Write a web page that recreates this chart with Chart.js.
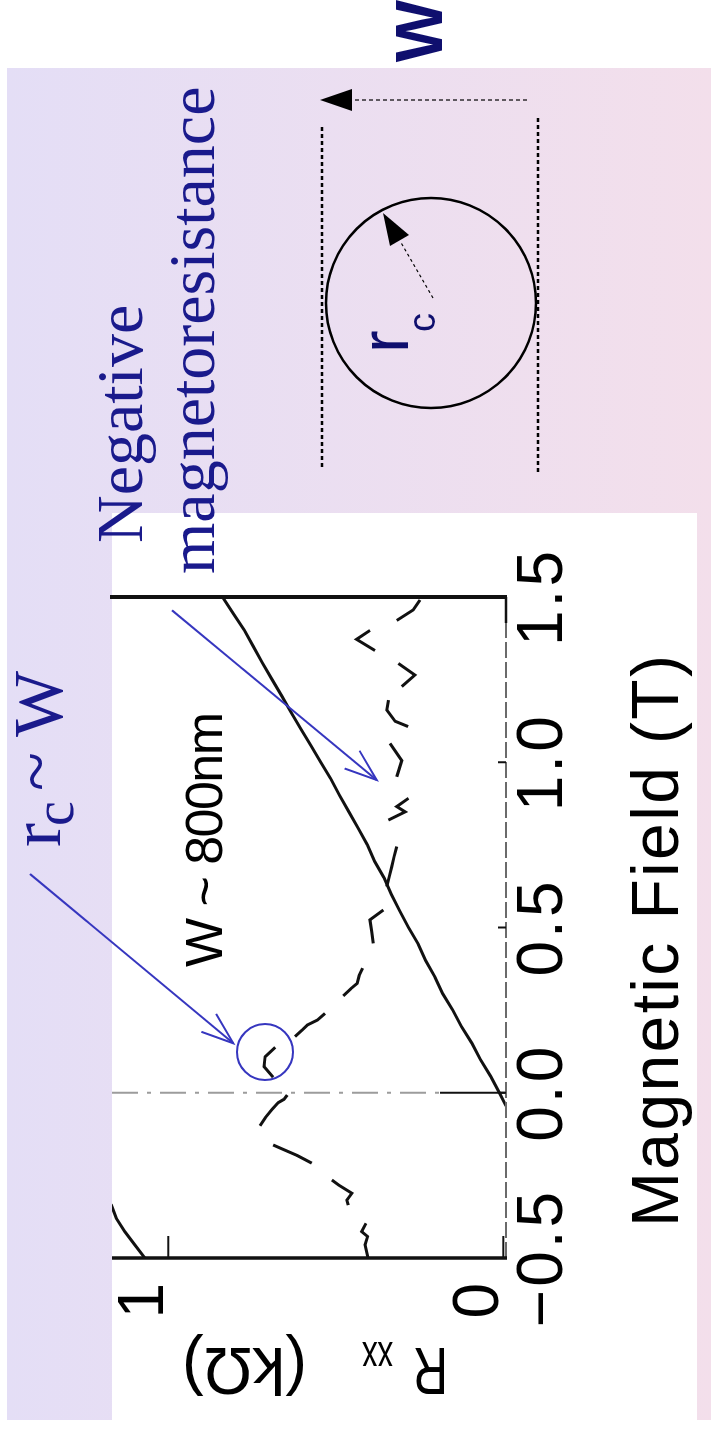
<!DOCTYPE html>
<html>
<head>
<meta charset="utf-8">
<script src="https://cdn.jsdelivr.net/npm/chart.js@4.4.1/dist/chart.umd.min.js"></script>
<style>
  html, body { margin: 0; padding: 0; background: #fff; overflow: hidden; }
  /* the slide is laid out landscape and turned a quarter turn */
  #slide { position: absolute; left: 0; top: 0; width: 1431px; height: 711px;
           transform-origin: 0 0; transform: translateY(1431px) rotate(-90deg); }
  #bg { position: absolute; left: 11px; top: 7px; width: 1352px; height: 704px;
        background: linear-gradient(to bottom, #e4def6, #f3dfeb); }
  #panel { position: absolute; left: 11px; top: 112px; width: 907px; height: 585px; background: #fff; }
  #chart, #notes { position: absolute; left: 0; top: 0; }
</style>
</head>
<body>
<div id="slide">
  <div id="bg"></div>
  <div id="panel"></div>
  <canvas id="chart" width="1431" height="711"></canvas>
  <svg id="notes" width="1431" height="711" font-family="'Liberation Sans', Arial, sans-serif">
    <!-- channel of width W with a cyclotron orbit -->
    <g stroke="#000" fill="none">
      <line x1="964" y1="322" x2="1306" y2="322" stroke-width="2.5" stroke-dasharray="4 3"/>
      <line x1="959" y1="538" x2="1313" y2="538" stroke-width="2.5" stroke-dasharray="4 3"/>
      <circle cx="1128" cy="431" r="105" stroke-width="2.5"/>
      <line x1="1331" y1="527" x2="1331" y2="350" stroke-width="1.2" stroke-dasharray="4 3"/>
      <line x1="1133" y1="433" x2="1190" y2="400" stroke-width="1.2" stroke-dasharray="3 3"/>
    </g>
    <polygon points="1331,320 1320,352 1342,352" fill="#000"/>
    <polygon points="1218,383 1196,409 1185,390" fill="#000"/>
    <text x="1400" y="442" text-anchor="middle" font-size="66" font-weight="bold" fill="#0f0f6e">W</text>
    <text x="1078" y="408" font-size="68" fill="#0f0f6e">r</text>
    <text x="1099" y="435" font-size="38" fill="#0f0f6e">c</text>

    <g font-family="'Liberation Serif', 'Times New Roman', serif" fill="#1a1a8c">
      <text x="888" y="142" font-size="66">Negative</text>
      <text x="857" y="214" font-size="66">magnetoresistance</text>
      <text x="584" y="60" font-size="72">r</text>
      <text x="605" y="73" font-size="56">c</text>
      <text x="640" y="60" font-size="72">~</text>
      <text x="694" y="62" font-size="70">W</text>
    </g>

    <!-- pointers onto the plot -->
    <g stroke="#3636bf" stroke-width="2" fill="none">
      <line x1="557" y1="30" x2="387.7" y2="233.3"/>
      <polyline points="417.1,216.2 387.7,233.3 399.2,201.3"/>
      <line x1="820.7" y1="172" x2="651" y2="376.7"/>
      <polyline points="680.3,359.5 651,376.7 662.5,344.7"/>
      <circle cx="379" cy="265" r="28"/>
    </g>

    <text x="464" y="222" font-size="52" textLength="255" lengthAdjust="spacing">W ~ 800nm</text>
    <text x="204" y="678" font-size="66" textLength="572" lengthAdjust="spacing">Magnetic Field (T)</text>
    <g transform="translate(83 448) rotate(-90)" font-size="66">
      <text x="0" y="0" textLength="35" lengthAdjust="spacingAndGlyphs">R</text>
      <text x="55" y="6" font-size="44" textLength="31" lengthAdjust="spacingAndGlyphs">xx</text>
      <text x="141" y="0" textLength="125" lengthAdjust="spacingAndGlyphs">(kΩ)</text>
    </g>
  </svg>
</div>
<script>
// field in tesla, resistance in kΩ; a null value lifts the pen
const hallField = [-0.5, -0.46, -0.42, -0.38, -0.34, -0.30, -0.30,
  -0.04, 0.00, 0.05, 0.10, 0.15, 0.20, 0.25, 0.30, 0.35, 0.40, 0.45, 0.50, 0.55, 0.60, 0.65, 0.70,
  0.75, 0.80, 0.85, 0.90, 0.95, 1.00, 1.05, 1.10, 1.15, 1.20, 1.25, 1.30, 1.35, 1.40, 1.45, 1.50];
const hallValue = [1.07, 1.10, 1.13, 1.155, 1.17, 1.20, null,
  -0.008, 0.012, 0.038, 0.068, 0.094, 0.125, 0.151, 0.181, 0.204, 0.232, 0.254, 0.283, 0.309, 0.334, 0.356, 0.384,
  0.406, 0.433, 0.461, 0.489, 0.515, 0.545, 0.574, 0.604, 0.633, 0.661, 0.69, 0.719, 0.746, 0.773, 0.806, 0.838];

const rxxField = [
  -0.5, -0.46, -0.435, -0.42, -0.395, -0.395,
  -0.34, -0.325, -0.304, -0.279, -0.264, -0.264,
  -0.213, -0.19, -0.17, -0.158, -0.158,
  -0.10, -0.075, -0.05, -0.03, -0.02, -0.007, -0.007,
  0.047, 0.079, 0.109, 0.1375, 0.1375,
  0.17, 0.19, 0.205, 0.22, 0.24, 0.24,
  0.293, 0.315, 0.331, 0.355, 0.377, 0.377,
  0.452, 0.487, 0.523, 0.553, 0.553,
  0.624, 0.655, 0.684, 0.715, 0.745, 0.745,
  0.825, 0.85, 0.866, 0.891, 0.891,
  0.956, 1.005, 1.057, 1.057,
  1.108, 1.124, 1.158, 1.188, 1.188,
  1.229, 1.264, 1.299, 1.299,
  1.338, 1.372, 1.399, 1.399,
  1.429, 1.461, 1.491];
const rxxValue = [
  0.404, 0.413, 0.405, 0.423, 0.41, null,
  0.463, 0.467, 0.452, 0.492, 0.512, null,
  0.572, 0.615, 0.66, 0.687, null,
  0.726, 0.71, 0.69, 0.672, 0.655, 0.645, null,
  0.687, 0.714, 0.711, 0.681, null,
  0.622, 0.60, 0.585, 0.555, 0.532, null,
  0.478, 0.455, 0.436, 0.43, 0.42, null,
  0.388, 0.393, 0.398, 0.358, null,
  0.348, 0.34, 0.333, 0.326, 0.318, null,
  0.343, 0.293, 0.318, 0.283, null,
  0.318, 0.303, 0.338, null,
  0.284, 0.323, 0.348, 0.343, null,
  0.303, 0.264, 0.313, null,
  0.383, 0.438, 0.398, null,
  0.318, 0.269, 0.249];

const fieldTicks = [-0.5, 0, 0.5, 1, 1.5];
const resTicks = [0, 1];

const toPoints = (xs, ys) => xs.map((v, i) => ({ x: v, y: ys[i] }));

function line(ctx, x1, y1, x2, y2) {
  ctx.beginPath();
  ctx.moveTo(x1, y1);
  ctx.lineTo(x2, y2);
  ctx.stroke();
}

// box, zero-field marker and inward ticks of the scanned figure
const framePlugin = {
  id: 'frame',
  beforeDraw(chart) {
    chart.ctx.letterSpacing = '3px';
  },
  afterDatasetsDraw(chart) {
    const { ctx, chartArea: area, scales: { x, y } } = chart;
    const { left, right, top, bottom } = area;
    ctx.save();
    ctx.letterSpacing = '0px';

    const x0 = x.getPixelForValue(0);
    ctx.strokeStyle = '#9c9c9c';
    ctx.lineWidth = 2;
    ctx.setLineDash([26, 9, 4, 9]);
    line(ctx, x0, top, x0, bottom - 66);
    ctx.setLineDash([]);
    ctx.strokeStyle = '#111';
    line(ctx, x0, bottom - 66, x0, bottom);

    ctx.strokeStyle = '#6a6a6a';
    ctx.setLineDash([16, 4]);
    line(ctx, left, bottom, right, bottom);
    ctx.setLineDash([]);
    ctx.strokeStyle = '#111';
    ctx.lineWidth = 2.5;
    line(ctx, right - 26, bottom, right, bottom);

    ctx.lineWidth = 3.5;
    line(ctx, left, top, left, bottom + 1);
    ctx.lineWidth = 4;
    line(ctx, right, top - 2, right, bottom + 1);

    ctx.lineWidth = 2;
    resTicks.forEach(v => {
      const py = y.getPixelForValue(v);
      line(ctx, left, py, left + 22, py);
    });
    fieldTicks.slice(1, -1).forEach(v => {
      const px = x.getPixelForValue(v);
      line(ctx, px, bottom, px, bottom - 8);
    });
    ctx.restore();
  }
};

const tickFont = { family: "'Liberation Sans', Arial, sans-serif", size: 64 };

new Chart(document.getElementById('chart'), {
  type: 'line',
  data: {
    datasets: [
      {
        label: 'Rxy',
        data: toPoints(hallField, hallValue),
        borderColor: '#111',
        borderWidth: 3,
        pointRadius: 0,
        spanGaps: false
      },
      {
        label: 'Rxx',
        data: toPoints(rxxField, rxxValue),
        borderColor: '#111',
        borderWidth: 3,
        pointRadius: 0,
        spanGaps: false
      }
    ]
  },
  options: {
    responsive: false,
    animation: false,
    devicePixelRatio: 1,
    layout: { padding: { left: 53, right: 597, top: 112, bottom: 55 } },
    plugins: { legend: { display: false }, tooltip: { enabled: false } },
    scales: {
      x: {
        type: 'linear',
        min: -0.5,
        max: 1.5,
        afterBuildTicks: scale => { scale.ticks = fieldTicks.map(v => ({ value: v })); },
        afterFit: scale => { scale.height = 150; },
        grid: { display: false, drawTicks: false },
        border: { display: false },
        ticks: {
          font: tickFont,
          color: '#000',
          padding: 0,
          maxRotation: 0,
          autoSkip: false,
          callback: v => (v < 0 ? '\u2212' + Math.abs(v).toFixed(1) : v.toFixed(1))
        }
      },
      y: {
        min: -0.008,
        max: 1.168,
        afterBuildTicks: scale => { scale.ticks = resTicks.map(v => ({ value: v })); },
        afterFit: scale => { scale.width = 120; },
        grid: { display: false, drawTicks: false },
        border: { display: false },
        ticks: {
          font: tickFont,
          color: '#000',
          padding: 22,
          labelOffset: -23,
          callback: v => String(v)
        }
      }
    }
  },
  plugins: [framePlugin]
});
</script>
</body>
</html>
